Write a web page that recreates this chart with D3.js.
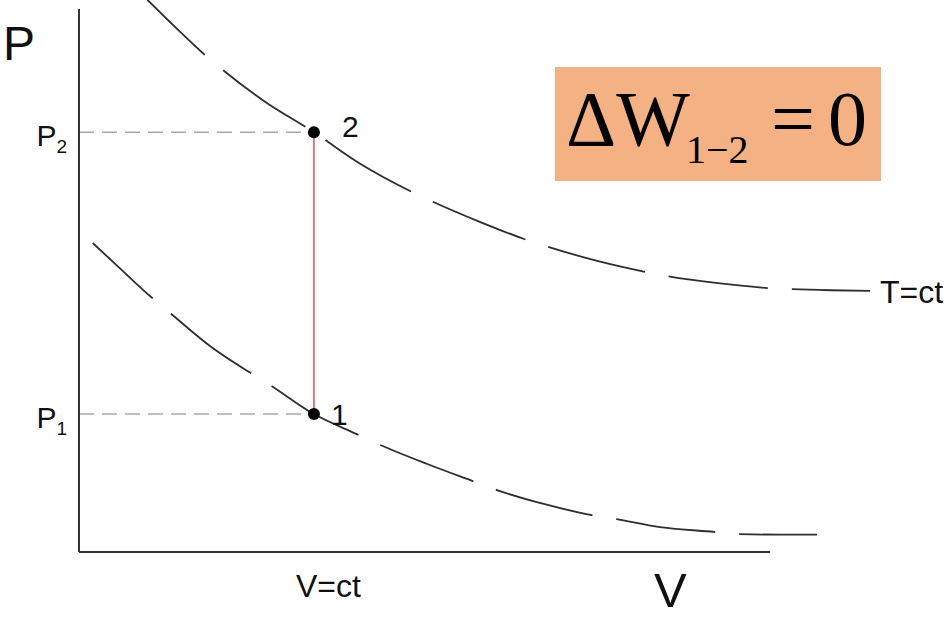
<!DOCTYPE html>
<html>
<head>
<meta charset="utf-8">
<script src="https://cdn.jsdelivr.net/npm/d3@7"></script>
<style>
  html, body { margin: 0; padding: 0; background: #ffffff; }
  svg { display: block; }
</style>
</head>
<body>
<svg id="chart" width="951" height="618"></svg>
<script>
// Isotherms (V, P) in arbitrary units
const upperIsotherm = [
  [0.99, 10.17], [1.39, 9.67], [1.79, 9.19], [2.08, 8.88], [2.66, 8.32],
  [3.40, 7.73], [4.07, 7.15], [4.82, 6.63], [5.12, 6.45], [5.80, 6.08],
  [6.45, 5.76], [6.79, 5.62], [7.50, 5.36], [8.19, 5.16], [8.52, 5.08],
  [9.25, 4.95], [9.97, 4.86], [10.32, 4.84], [10.87, 4.82], [11.45, 4.81]
];
const lowerIsotherm = [
  [0.20, 5.69], [0.62, 5.19], [1.04, 4.70], [1.32, 4.40], [1.90, 3.79],
  [2.48, 3.30], [2.76, 3.08], [3.40, 2.54], [4.02, 2.17], [4.36, 1.97],
  [5.04, 1.62], [5.69, 1.31], [6.05, 1.14], [6.74, 0.88], [7.42, 0.68],
  [7.76, 0.61], [8.41, 0.46], [9.19, 0.37], [9.54, 0.33], [10.15, 0.32],
  [10.68, 0.32]
];
// Where one dash of each isotherm begins
const upperDashStart = [5.12, 6.45];
const lowerDashStart = [4.36, 1.97];

// Isochoric process 1 -> 2
const states = [
  { name: "1", V: 3.40, P: 2.54, tick: "P", sub: "1" },
  { name: "2", V: 3.40, P: 7.73, tick: "P", sub: "2" }
];
const vConst = 3.40;

const svg = d3.select("#chart");
const W = 951, H = 618;
svg.append("rect").attr("width", W).attr("height", H).attr("fill", "#ffffff");

const x = d3.scaleLinear().domain([0, 10]).range([79, 770]);
const y = d3.scaleLinear().domain([0, 10]).range([552, 9]);

const line = d3.line()
  .x(d => x(d[0]))
  .y(d => y(d[1]))
  .curve(d3.curveMonotoneX);

// Guide lines from the axis to each state
svg.selectAll(".guide")
  .data(states)
  .enter().append("line")
  .attr("class", "guide")
  .attr("x1", x(0)).attr("x2", d => x(d.V))
  .attr("y1", d => y(d.P)).attr("y2", d => y(d.P))
  .attr("stroke", "#a9a9a9")
  .attr("stroke-width", 1.5)
  .attr("stroke-dasharray", "15 8");

// Constant-volume path
svg.append("line")
  .attr("x1", x(vConst)).attr("x2", x(vConst))
  .attr("y1", y(states[0].P)).attr("y2", y(states[1].P))
  .attr("stroke", "#e35a62")
  .attr("stroke-width", 1.6);

// Isotherms, long dashes phased so a dash begins at the given point
const DASH = 100, GAP = 24, PERIOD = DASH + GAP;
function drawIsotherm(data, anchor) {
  const path = svg.append("path")
    .datum(data)
    .attr("d", line)
    .attr("fill", "none")
    .attr("stroke", "#2e2e2e")
    .attr("stroke-width", 1.8);
  const node = path.node();
  const total = node.getTotalLength();
  const ax = x(anchor[0]), ay = y(anchor[1]);
  let best = 0, bestD = Infinity;
  for (let s = 0; s <= total; s += 0.5) {
    const p = node.getPointAtLength(s);
    const dd = (p.x - ax) ** 2 + (p.y - ay) ** 2;
    if (dd < bestD) { bestD = dd; best = s; }
  }
  const offset = (PERIOD - (best % PERIOD)) % PERIOD;
  path.attr("stroke-dasharray", DASH + " " + GAP)
      .attr("stroke-dashoffset", offset);
}
drawIsotherm(upperIsotherm, upperDashStart);
drawIsotherm(lowerIsotherm, lowerDashStart);

// State points
svg.selectAll(".state")
  .data(states)
  .enter().append("circle")
  .attr("class", "state")
  .attr("cx", d => x(d.V)).attr("cy", d => y(d.P))
  .attr("r", 6)
  .attr("fill", "#000000");

// Axes
svg.append("line")
  .attr("x1", x(0)).attr("x2", x(0))
  .attr("y1", y(10)).attr("y2", y(0))
  .attr("stroke", "#333333").attr("stroke-width", 2);
svg.append("line")
  .attr("x1", x(0)).attr("x2", x(10))
  .attr("y1", y(0)).attr("y2", y(0))
  .attr("stroke", "#333333").attr("stroke-width", 2);

const sans = "'Liberation Sans', Arial, sans-serif";
const serif = "'Liberation Serif', 'Times New Roman', serif";

// Axis titles
svg.append("text")
  .attr("x", 3).attr("y", 60)
  .attr("font-family", sans).attr("font-size", 48)
  .attr("fill", "#111").text("P");
svg.append("text")
  .attr("x", 654).attr("y", 607)
  .attr("font-family", sans).attr("font-size", 49)
  .attr("fill", "#111").text("V");

// Pressure tick labels
const tickLabels = svg.selectAll(".ptick")
  .data(states)
  .enter().append("text")
  .attr("class", "ptick")
  .attr("x", 67)
  .attr("y", d => y(d.P) + 14)
  .attr("text-anchor", "end")
  .attr("font-family", sans).attr("font-size", 30)
  .attr("fill", "#111");
tickLabels.append("tspan").text(d => d.tick);
tickLabels.append("tspan")
  .attr("font-size", 19).attr("dy", 7)
  .text(d => d.sub);

// Volume label
svg.append("text")
  .attr("x", 296).attr("y", 597)
  .attr("font-family", sans).attr("font-size", 32)
  .attr("fill", "#111").text("V=ct");

// State numbers
svg.selectAll(".stateLabel")
  .data(states)
  .enter().append("text")
  .attr("class", "stateLabel")
  .attr("x", d => x(d.V) + (d.name === "1" ? 17 : 28))
  .attr("y", d => y(d.P) + (d.name === "1" ? 11 : 5))
  .attr("font-family", sans).attr("font-size", 30)
  .attr("fill", "#111").text(d => d.name);

// Isotherm label
svg.append("text")
  .attr("x", 880).attr("y", 303)
  .attr("font-family", sans).attr("font-size", 32)
  .attr("fill", "#111").text("T=ct");

// Work box
svg.append("rect")
  .attr("x", 555).attr("y", 67)
  .attr("width", 326).attr("height", 114)
  .attr("fill", "#f4b183");
svg.append("text")
  .attr("x", 566).attr("y", 145)
  .attr("font-family", serif).attr("font-size", 78)
  .attr("fill", "#000").text("\u0394W");
svg.append("text")
  .attr("x", 686).attr("y", 163)
  .attr("font-family", serif).attr("font-size", 40)
  .attr("fill", "#000").text("1\u22122");
svg.append("text")
  .attr("x", 771).attr("y", 145)
  .attr("font-family", serif).attr("font-size", 78)
  .attr("fill", "#000").text("=");
svg.append("text")
  .attr("x", 828).attr("y", 145)
  .attr("font-family", serif).attr("font-size", 78)
  .attr("fill", "#000").text("0");
</script>
</body>
</html>
